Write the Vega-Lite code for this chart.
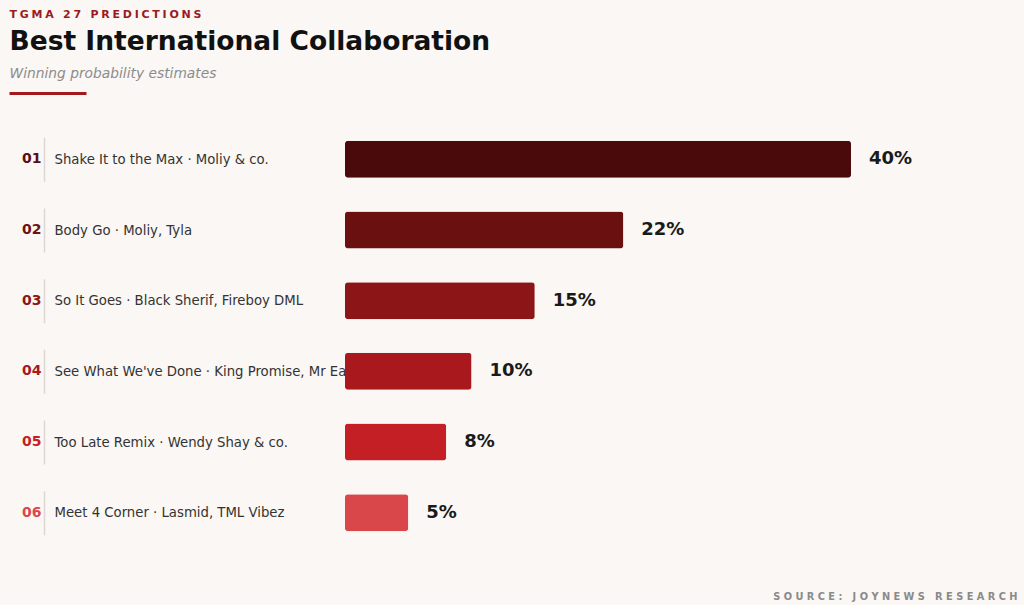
{
  "$schema": "https://vega.github.io/schema/vega-lite/v6.json",
  "background": "#faf7f4",
  "padding": {"left": 7, "top": 8, "right": 7, "bottom": 4},
  "autosize": {"type": "pad"},
  "config": {
    "font": "DejaVu Sans",
    "view": {"stroke": null},
    "axis": {"grid": false}
  },
  "title": {
    "text": "T\u2005G\u2005M\u2005A\u2005\u00a0\u20052\u20057\u2005\u00a0\u2005P\u2005R\u2005E\u2005D\u2005I\u2005C\u2005T\u2005I\u2005O\u2005N\u2005S",
    "anchor": "start",
    "frame": "bounds",
    "dx": 2,
    "fontSize": 11,
    "fontWeight": "bold",
    "color": "#9b1b20",
    "offset": 9
  },
  "datasets": {
    "nominees": [
      {"rank": "01", "song": "Shake It to the Max · Moliy & co.", "share": 0.40},
      {"rank": "02", "song": "Body Go · Moliy, Tyla", "share": 0.22},
      {"rank": "03", "song": "So It Goes · Black Sherif, Fireboy DML", "share": 0.15},
      {"rank": "04", "song": "See What We've Done · King Promise, Mr Eazi", "share": 0.10},
      {"rank": "05", "song": "Too Late Remix · Wendy Shay & co.", "share": 0.08},
      {"rank": "06", "song": "Meet 4 Corner · Lasmid, TML Vibez", "share": 0.05}
    ]
  },
  "spacing": 29,
  "vconcat": [
    {
      "width": 10,
      "height": 3,
      "data": {"values": []},
      "mark": "text",
      "encoding": {
        "y": {
          "datum": 0.5,
          "type": "quantitative",
          "scale": {"domain": [0, 1]},
          "axis": {
            "orient": "left",
            "values": [0.5],
            "offset": 259,
            "tickSize": 77,
            "tickWidth": 3,
            "tickColor": "#a31a1e",
            "tickCap": "butt",
            "labels": false,
            "domain": false,
            "title": null
          }
        }
      },
      "title": {
        "text": "Best International Collaboration",
        "subtitle": "Winning probability estimates",
        "anchor": "start",
        "frame": "bounds",
        "dx": 2,
        "fontSize": 26.5,
        "fontWeight": "bold",
        "color": "#111111",
        "subtitleFontSize": 13.8,
        "subtitleFontStyle": "italic",
        "subtitleColor": "#8c8c8c",
        "subtitlePadding": 12,
        "offset": 10
      }
    },
    {
      "width": 672,
      "height": 424,
      "data": {"name": "nominees"},
      "resolve": {"scale": {"y": "independent"}},
      "layer": [
        {
          "mark": {"type": "bar", "cornerRadius": 3},
          "encoding": {
            "y": {
              "field": "rank",
              "type": "nominal",
              "sort": "ascending",
              "scale": {"paddingInner": 0.476, "paddingOuter": 0.238},
              "axis": {
                "orient": "left",
                "offset": 301,
                "title": "\u00a0",
                "titleFontSize": 11,
                "titlePadding": 0,
                "ticks": false,
                "labelPadding": 3,
                "labelAlign": "right",
                "labelFontSize": 14,
                "labelFontWeight": "bold",
                "labelColor": {"expr": "['#5a0d12','#6e1214','#8c1618','#a8181d','#c41f24','#d9474b'][indexof(['01','02','03','04','05','06'], datum.value)]"},
                "domainColor": "#dcd7d2",
                "domainWidth": 1.5,
                "domainDash": [44, 26.67],
                "domainDashOffset": 57.33
              }
            },
            "x": {
              "field": "share",
              "type": "quantitative",
              "scale": {"domain": [0, 0.5312], "nice": false},
              "axis": {
                "orient": "bottom",
                "title": "S\u00a0O\u00a0U\u00a0R\u00a0C\u00a0E\u00a0:\u00a0\u00a0\u00a0J\u00a0O\u00a0Y\u00a0N\u00a0E\u00a0W\u00a0S\u00a0\u00a0\u00a0R\u00a0E\u00a0S\u00a0E\u00a0A\u00a0R\u00a0C\u00a0H",
                "labels": false,
                "ticks": false,
                "domain": false,
                "titleAnchor": "end",
                "titleAlign": "right",
                "titleFontSize": 9.8,
                "titleFontWeight": "bold",
                "titleColor": "#8a8a8a",
                "titlePadding": 43
              }
            },
            "color": {
              "field": "rank",
              "type": "nominal",
              "scale": {
                "domain": ["01", "02", "03", "04", "05", "06"],
                "range": ["#4a0a0b", "#6b1011", "#8c1518", "#a8181d", "#c41f24", "#d9474b"]
              },
              "legend": null
            }
          }
        },
        {
          "mark": {"type": "text", "align": "left", "baseline": "middle", "dx": 18, "fontSize": 18, "fontWeight": "bold", "color": "#1a1a1a"},
          "encoding": {
            "y": {
              "field": "song",
              "type": "nominal",
              "sort": {"field": "share", "op": "max", "order": "descending"},
              "scale": {"paddingInner": 0.476, "paddingOuter": 0.238},
              "axis": {
                "orient": "left",
                "offset": 291,
                "title": null,
                "ticks": false,
                "domain": false,
                "labelPadding": 0,
                "labelAlign": "left",
                "labelFontSize": 13.25,
                "labelColor": "#333333",
                "labelLimit": 400
              }
            },
            "x": {"field": "share", "type": "quantitative"},
            "text": {"field": "share", "type": "quantitative", "format": ".0%"}
          }
        }
      ]
    }
  ]
}
